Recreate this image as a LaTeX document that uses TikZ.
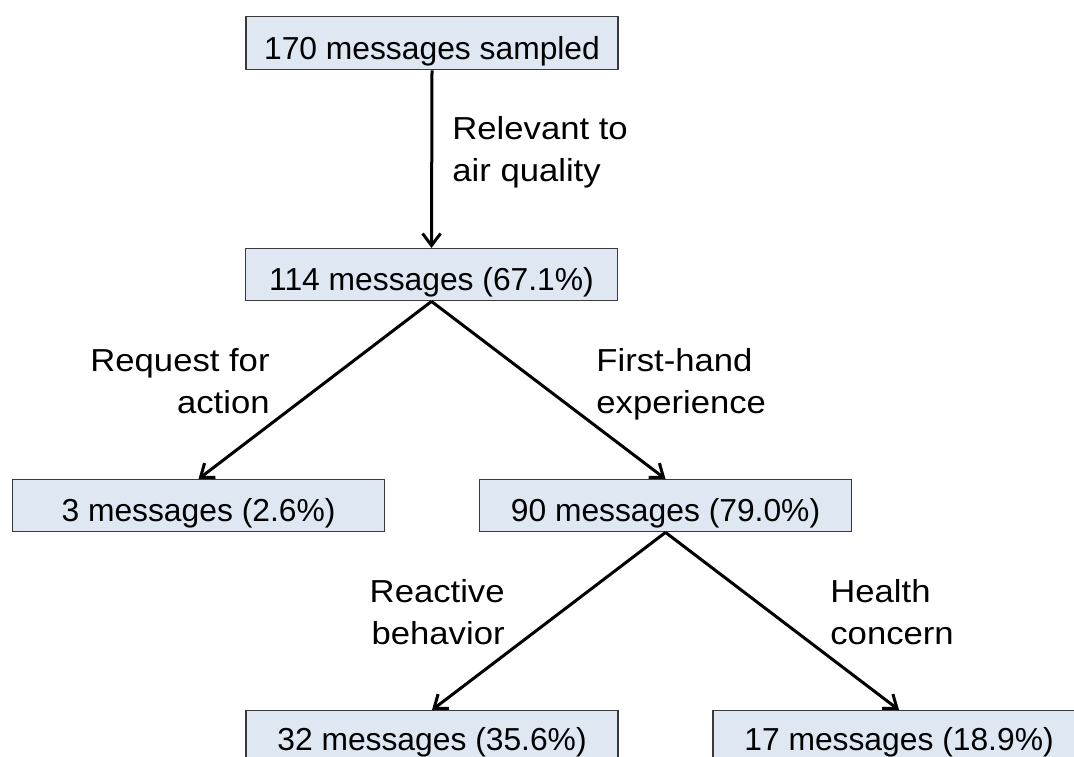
\documentclass[tikz,border=0pt]{standalone}
\usepackage{fontspec}
\setmainfont{Liberation Sans}
\newfontfamily\labelfont[FakeStretch=1.09]{Liberation Sans}
\usetikzlibrary{arrows.meta}
\definecolor{boxfill}{HTML}{DEE7F2}
\definecolor{boxline}{HTML}{3A3A3A}
\begin{document}
\begin{tikzpicture}[x=0.5pt,y=-0.5pt,
  msgbox/.style={draw=boxline, fill=boxfill, line width=0.7pt,
    minimum width=186pt, inner xsep=0pt, inner ysep=0pt,
    text height=21pt, text depth=5pt, anchor=north,
    font=\fontsize{15.9pt}{19pt}\selectfont},
  lowbox/.style={msgbox, text height=20pt, text depth=6pt},
  flow/.style={-{Straight Barb[length=6pt,width=9pt]}, line width=1.5pt, black},
  lbl/.style={inner sep=0pt, font=\labelfont\fontsize{15.9pt}{21pt}\selectfont}
]
\useasboundingbox (0,0) rectangle (1074,756);
\fill[white] (0,0) rectangle (1074,756);
\clip (0,0) rectangle (1074,756);

\node[msgbox, text height=21.5pt, text depth=5pt] (b1) at (432,16) {170 messages sampled};
\node[msgbox] (b2) at (431.5,248) {114 messages (67.1\%)};
\node[msgbox] (b3) at (198.5,479) {3 messages (2.6\%)};
\node[msgbox] (b4) at (665.5,479) {90 messages (79.0\%)};
\node[lowbox] (b5) at (432,710) {32 messages (35.6\%)};
\node[lowbox] (b6) at (899,710) {17 messages (18.9\%)};

\node[lbl, anchor=base west] (l1) at (452,139) {\begin{tabular}[t]{@{}l@{}}Relevant to\\air quality\end{tabular}};
\node[lbl, anchor=base east] (l2) at (270,371) {\begin{tabular}[t]{@{}r@{}}Request for\\action\end{tabular}};
\node[lbl, anchor=base west] (l3) at (596,371) {\begin{tabular}[t]{@{}l@{}}First-hand\\experience\end{tabular}};
\node[lbl, anchor=base east] (l4) at (505,602) {\begin{tabular}[t]{@{}r@{}}Reactive\\behavior\end{tabular}};
\node[lbl, anchor=base west] (l5) at (830,602) {\begin{tabular}[t]{@{}l@{}}Health\\concern\end{tabular}};

\draw[flow] (b1.south) -- (b2.north);
\draw[flow] (b2.south) -- (b3.north);
\draw[flow] (b2.south) -- (b4.north);
\draw[flow] (b4.south) -- (b5.north);
\draw[flow] (b4.south) -- (b6.north);
\end{tikzpicture}
\end{document}
